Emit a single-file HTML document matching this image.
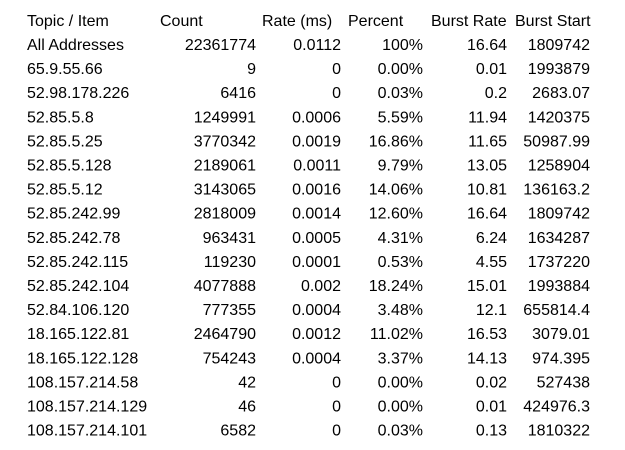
<!DOCTYPE html>
<html><head><meta charset="utf-8"><style>
body{margin:0;background:#fff;}
svg{display:block;font-family:"Liberation Sans",sans-serif;font-size:16px;fill:#000;}
</style></head><body>
<svg id="t" width="625" height="450"></svg>
<script>
const topics=["All Addresses","65.9.55.66","52.98.178.226","52.85.5.8","52.85.5.25","52.85.5.128","52.85.5.12","52.85.242.99","52.85.242.78","52.85.242.115","52.85.242.104","52.84.106.120","18.165.122.81","18.165.122.128","108.157.214.58","108.157.214.129","108.157.214.101"];
const counts=["22361774","9","6416","1249991","3770342","2189061","3143065","2818009","963431","119230","4077888","777355","2464790","754243","42","46","6582"];
const rates=["0.0112","0","0","0.0006","0.0019","0.0011","0.0016","0.0014","0.0005","0.0001","0.002","0.0004","0.0012","0.0004","0","0","0"];
const percents=["100%","0.00%","0.03%","5.59%","16.86%","9.79%","14.06%","12.60%","4.31%","0.53%","18.24%","3.48%","11.02%","3.37%","0.00%","0.00%","0.03%"];
const burstRates=["16.64","0.01","0.2","11.94","11.65","13.05","10.81","16.64","6.24","4.55","15.01","12.1","16.53","14.13","0.02","0.01","0.13"];
const burstStarts=["1809742","1993879","2683.07","1420375","50987.99","1258904","136163.2","1809742","1634287","1737220","1993884","655814.4","3079.01","974.395","527438","424976.3","1810322"];
const headers=["Topic / Item","Count","Rate (ms)","Percent","Burst Rate","Burst Start"];
const svg=document.getElementById('t');
const NS="http://www.w3.org/2000/svg";
function txt(x,y,s,anchor,name){
  const e=document.createElementNS(NS,'text');
  e.setAttribute('x',x);e.setAttribute('y',y);
  if(anchor)e.setAttribute('text-anchor',anchor);
  e.textContent=s;
  
  
  svg.appendChild(e);
}
const hx=[27,160,262,348,431,515];
const hnames=['header-topic','header-count','header-rate','header-percent','header-burst-rate','header-burst-start'];
headers.forEach((h,i)=>txt(hx[i],26,h,null,hnames[i]));
const cols=[[counts,256,'count-cell'],[rates,341,'rate-cell'],[percents,423,'percent-cell'],[burstRates,507,'burst-rate-cell'],[burstStarts,590,'burst-start-cell']];
topics.forEach((tp,i)=>{
  const y=50+i*24.1;
  txt(27,y,tp,null,'topic-cell');
  cols.forEach(c=>txt(c[1],y,c[0][i],'end',c[2]));
});
</script>
</body></html>
